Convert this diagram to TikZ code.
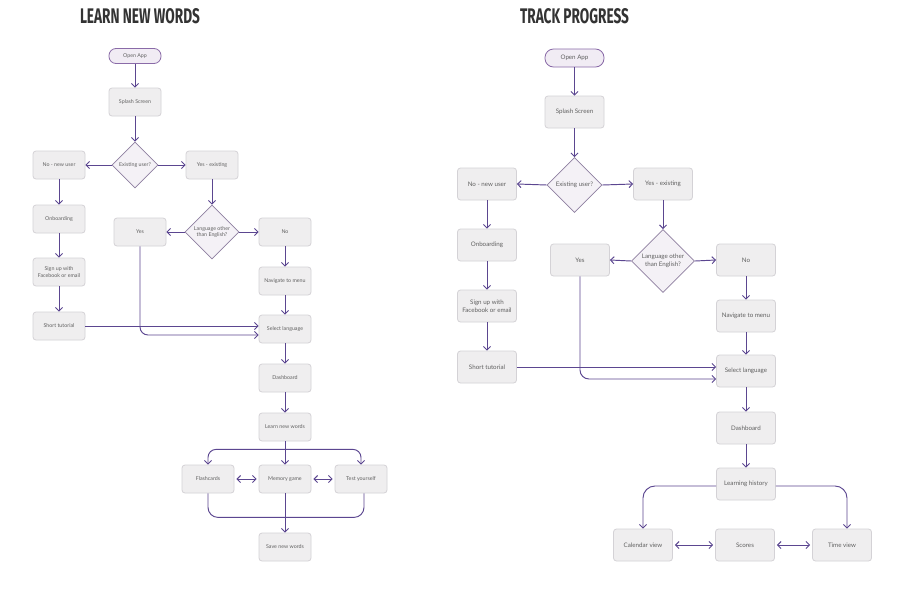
\documentclass[tikz,border=0pt]{standalone}
\usepackage{fontspec}
\setmainfont{Lato}
\newfontfamily\titlefont{Fira Sans}
\usetikzlibrary{arrows.meta,shapes.geometric,calc}
\definecolor{flowc}{HTML}{5B4690}
\definecolor{boxfill}{HTML}{EFEEEF}
\definecolor{boxline}{HTML}{D4D2D6}
\definecolor{pillfill}{HTML}{F1ECF4}
\definecolor{pillline}{HTML}{8A6BA8}
\definecolor{diafill}{HTML}{F4F1F6}
\definecolor{dialine}{HTML}{8E7FA0}
\definecolor{txt}{HTML}{606060}
\definecolor{ttl}{HTML}{333333}
\tikzset{
  x=1pt,y=-1pt,
  box/.style={rectangle, rounded corners=3pt, draw=boxline, fill=boxfill, line width=0.8pt, align=center, text=txt, inner sep=0pt},
  lbox/.style={box, minimum width=52pt, minimum height=28pt, font=\fontsize{5.3}{6.4}\selectfont},
  rbox/.style={box, minimum width=59pt, minimum height=32pt, font=\fontsize{6.2}{7.6}\selectfont},
  lpill/.style={lbox, rounded corners=7pt, draw=pillline, fill=pillfill, minimum height=15pt},
  rpill/.style={rbox, rounded corners=8.5pt, draw=pillline, fill=pillfill, minimum height=18pt},
  ldec/.style={diamond, aspect=1, draw=dialine, fill=diafill, line width=0.8pt, text=txt, inner sep=0pt, align=center, font=\fontsize{5.3}{6.4}\selectfont},
  rdec/.style={diamond, aspect=1, draw=dialine, fill=diafill, line width=0.8pt, text=txt, inner sep=0pt, align=center, font=\fontsize{6.2}{7.6}\selectfont},
  flow/.style={draw=flowc, line width=0.95pt, -{Straight Barb[length=3.5pt,width=7pt]}},
  link/.style={draw=flowc, line width=0.95pt},
  both/.style={draw=flowc, line width=0.95pt, {Straight Barb[length=3.5pt,width=7pt]}-{Straight Barb[length=3.5pt,width=7pt]}, shorten <=2pt, shorten >=2pt},
  ttlnode/.style={inner sep=0pt, text=ttl}
}
\begin{document}
\begin{tikzpicture}
\useasboundingbox (0,0) rectangle (900,616);
\fill[white] (0,0) rectangle (900,616);

% ---------- LEFT: LEARN NEW WORDS ----------
\node[ttlnode] (title1) at (140,16) {\resizebox{120pt}{15pt}{\titlefont\bfseries LEARN NEW WORDS}};
\node[lpill] (open1) at (135,56) {Open App};
\node[lbox] (splash1) at (135,102) {Splash Screen};
\node[ldec, minimum width=46pt, minimum height=46pt] (dia1) at (135,165) {Existing user?};
\node[lbox] (nonew1) at (59,165) {No - new user};
\node[lbox] (yesex1) at (212,165) {Yes - existing};
\node[lbox] (onb1) at (59,219) {Onboarding};
\node[lbox] (sign1) at (59,272) {Sign up with\\Facebook or email};
\node[lbox] (short1) at (59,326) {Short tutorial};
\node[ldec, minimum width=54pt, minimum height=54pt] (lang1) at (212,232) {Language other\\than English?};
\node[lbox] (yes1) at (140,232) {Yes};
\node[lbox] (no1) at (285,232) {No};
\node[lbox] (nav1) at (285,281) {Navigate to menu};
\node[lbox] (sel1) at (285,329) {Select language};
\node[lbox] (dash1) at (285,378) {Dashboard};
\node[lbox] (learn1) at (285,427) {Learn new words};
\node[lbox] (flash1) at (208,479) {Flashcards};
\node[lbox] (mem1) at (285,479) {Memory game};
\node[lbox] (test1) at (361,479) {Test yourself};
\node[lbox] (save1) at (285,547) {Save new words};

\draw[flow] (open1) -- (splash1);
\draw[flow] (splash1) -- (dia1);
\draw[flow] (dia1.west) -- (nonew1.east);
\draw[flow] (dia1.east) -- (yesex1.west);
\draw[flow] (nonew1) -- (onb1);
\draw[flow] (onb1) -- (sign1);
\draw[flow] (sign1) -- (short1);
\draw[flow] (yesex1) -- (lang1);
\draw[flow] (lang1.west) -- (yes1.east);
\draw[flow] (lang1.east) -- (no1.west);
\draw[flow] (no1) -- (nav1);
\draw[flow] (nav1) -- (sel1);
\draw[flow] (short1.east) -- (short1.east -| sel1.west);
\draw[flow, rounded corners=8pt] (yes1.south) |- ([yshift=-6pt]sel1.west);
\draw[flow] (sel1) -- (dash1);
\draw[flow] (dash1) -- (learn1);
\draw[flow] (learn1) -- (mem1);
\coordinate (j1) at ($(learn1.south)+(0,8)$);
\draw[flow, rounded corners=8pt] (j1) -| (flash1.north);
\draw[flow, rounded corners=8pt] (j1) -| (test1.north);
\draw[both] (flash1.east) -- (mem1.west);
\draw[both] (mem1.east) -- (test1.west);
\draw[link, rounded corners=10pt] (flash1.south) |- ($(mem1.south)+(0,24)$) -| ([xshift=3pt]test1.south);
\draw[flow] (mem1) -- (save1);

% ---------- RIGHT: TRACK PROGRESS ----------
\node[ttlnode] (title2) at (574.5,16) {\resizebox{109pt}{15pt}{\titlefont\bfseries TRACK PROGRESS}};
\node[rpill] (open2) at (574.5,58) {Open App};
\node[rbox] (splash2) at (574.5,112) {Splash Screen};
\node[rdec, minimum width=55pt, minimum height=55pt] (dia2) at (574.5,185) {Existing user?};
\node[rbox] (nonew2) at (487,184) {No - new user};
\node[rbox] (yesex2) at (663,184) {Yes - existing};
\node[rbox] (onb2) at (487,245) {Onboarding};
\node[rbox] (sign2) at (487,306) {Sign up with\\Facebook or email};
\node[rbox] (short2) at (487,367) {Short tutorial};
\node[rdec, minimum width=63pt, minimum height=63pt] (lang2) at (663,261) {Language other\\than English?};
\node[rbox] (yes2) at (580,260) {Yes};
\node[rbox] (no2) at (746,260) {No};
\node[rbox] (nav2) at (746,316) {Navigate to menu};
\node[rbox] (sel2) at (746,371) {Select language};
\node[rbox] (dash2) at (746,428) {Dashboard};
\node[rbox] (hist2) at (746,484) {Learning history};
\node[rbox] (cal2) at (643,545) {Calendar view};
\node[rbox] (scores2) at (745,545) {Scores};
\node[rbox] (time2) at (842,545) {Time view};

\draw[flow] (open2) -- (splash2);
\draw[flow] (splash2) -- (dia2);
\draw[flow] (dia2.west) -- (nonew2.east);
\draw[flow] (dia2.east) -- (yesex2.west);
\draw[flow] (nonew2) -- (onb2);
\draw[flow] (onb2) -- (sign2);
\draw[flow] (sign2) -- (short2);
\draw[flow] (yesex2) -- (lang2);
\draw[flow] (lang2.west) -- (yes2.east);
\draw[flow] (lang2.east) -- (no2.west);
\draw[flow] (no2) -- (nav2);
\draw[flow] (nav2) -- (sel2);
\draw[flow] (short2.east) -- (short2.east -| sel2.west);
\draw[flow, rounded corners=9pt] (yes2.south) |- ([yshift=-8pt]sel2.west);
\draw[flow] (sel2) -- (dash2);
\draw[flow] (dash2) -- (hist2);
\draw[flow, rounded corners=12pt] ([yshift=-2pt]hist2.west) -| (cal2.north);
\draw[flow, rounded corners=12pt] ([yshift=-2pt]hist2.east) -| ([xshift=5pt]time2.north);
\draw[both] (cal2.east) -- (scores2.west);
\draw[both] (scores2.east) -- (time2.west);
\end{tikzpicture}
\end{document}
